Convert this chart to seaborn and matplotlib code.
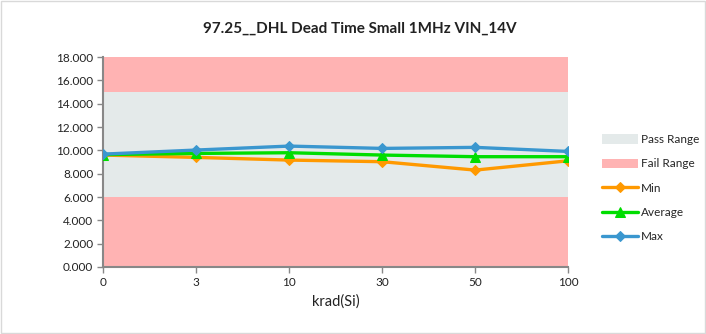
import matplotlib
matplotlib.use("Agg")
import matplotlib.pyplot as plt
import seaborn as sns
import pandas as pd
from matplotlib.patches import Patch, Rectangle

# Total ionizing dose steps (categorical axis)
doses = ["0", "3", "10", "30", "50", "100"]

# Dead time measurements (ns)
min_vals = [9.60, 9.40, 9.17, 9.03, 8.31, 9.11]
avg_vals = [9.64, 9.74, 9.80, 9.60, 9.46, 9.46]
max_vals = [9.68, 10.03, 10.37, 10.17, 10.26, 9.91]

# Spec limits
fail_low = 6.0
pass_high = 15.0
axis_top = 18.0

y_ticks = [0, 2, 4, 6, 8, 10, 12, 14, 16, 18]

sns.set_theme(style="white")
plt.rcParams["font.family"] = ["Lato", "DejaVu Sans"]

fig = plt.figure(figsize=(7.06, 3.34), dpi=100)
ax = fig.add_axes([0.146, 0.2006, 0.659, 0.6284])

n = len(doses)
xs = list(range(n))
ax.fill_between([0, n - 1], 0, fail_low, color="#FFB3B3", lw=0, zorder=0)
ax.fill_between([0, n - 1], fail_low, pass_high, color="#E4EAEA", lw=0, zorder=0)
ax.fill_between([0, n - 1], pass_high, axis_top, color="#FFB3B3", lw=0, zorder=0)

df = pd.DataFrame({
    "dose": doses * 3,
    "value": min_vals + avg_vals + max_vals,
    "series": ["Min"] * n + ["Average"] * n + ["Max"] * n,
})

palette = {"Min": "#FF9900", "Average": "#00DD00", "Max": "#3A97CF"}
markers = {"Min": "D", "Average": "^", "Max": "D"}
sizes = {"Min": 5, "Average": 6.5, "Max": 5}
for name in ["Min", "Average", "Max"]:
    sub = df[df["series"] == name]
    sns.lineplot(data=sub, x="dose", y="value", ax=ax, color=palette[name],
                 marker=markers[name], markersize=sizes[name],
                 markeredgecolor=palette[name], linewidth=2.4, sort=False,
                 zorder=3, label=name)

ax.set_xlim(0, n - 1)
ax.set_ylim(0, axis_top)
ax.set_yticks(y_ticks)
ax.set_yticklabels([f"{v:.3f}" for v in y_ticks], fontsize=8.5, color="#222222")
ax.set_xticks(xs)
ax.set_xticklabels(doses, fontsize=8.5, color="#222222")
ax.set_xlabel("krad(Si)", fontsize=10.5, color="#222222", labelpad=5)
ax.set_ylabel("")

for side in ["top", "right"]:
    ax.spines[side].set_visible(False)
for side in ["left", "bottom"]:
    ax.spines[side].set_color("#888888")
    ax.spines[side].set_linewidth(1.5)
ax.tick_params(axis="both", which="major", direction="out", length=4,
               width=1, color="#888888", pad=3, left=True, bottom=True)

fig.text(0.51, 0.915, "97.25__DHL Dead Time Small 1MHz VIN_14V", fontsize=11,
         fontweight="bold", color="#222222", ha="center", va="center")

handles, labels = ax.get_legend_handles_labels()
order = [labels.index(k) for k in ["Min", "Average", "Max"]]
legend_handles = [Patch(facecolor="#E4EAEA", edgecolor="none"),
                  Patch(facecolor="#FFB3B3", edgecolor="none")] + [handles[i] for i in order]
legend_labels = ["Pass Range", "Fail Range", "Min", "Average", "Max"]
ax.legend(legend_handles, legend_labels, loc="center left",
          bbox_to_anchor=(1.05, 0.375), frameon=False, fontsize=8.5,
          handlelength=3.0, handletextpad=0.3, labelspacing=1.13,
          handleheight=0.8)

fig.patches.append(Rectangle((0.001, 0.002), 0.997, 0.995, transform=fig.transFigure,
                             fill=False, edgecolor="#D9D9D9", lw=1))

fig.savefig("out.png", dpi=100)
